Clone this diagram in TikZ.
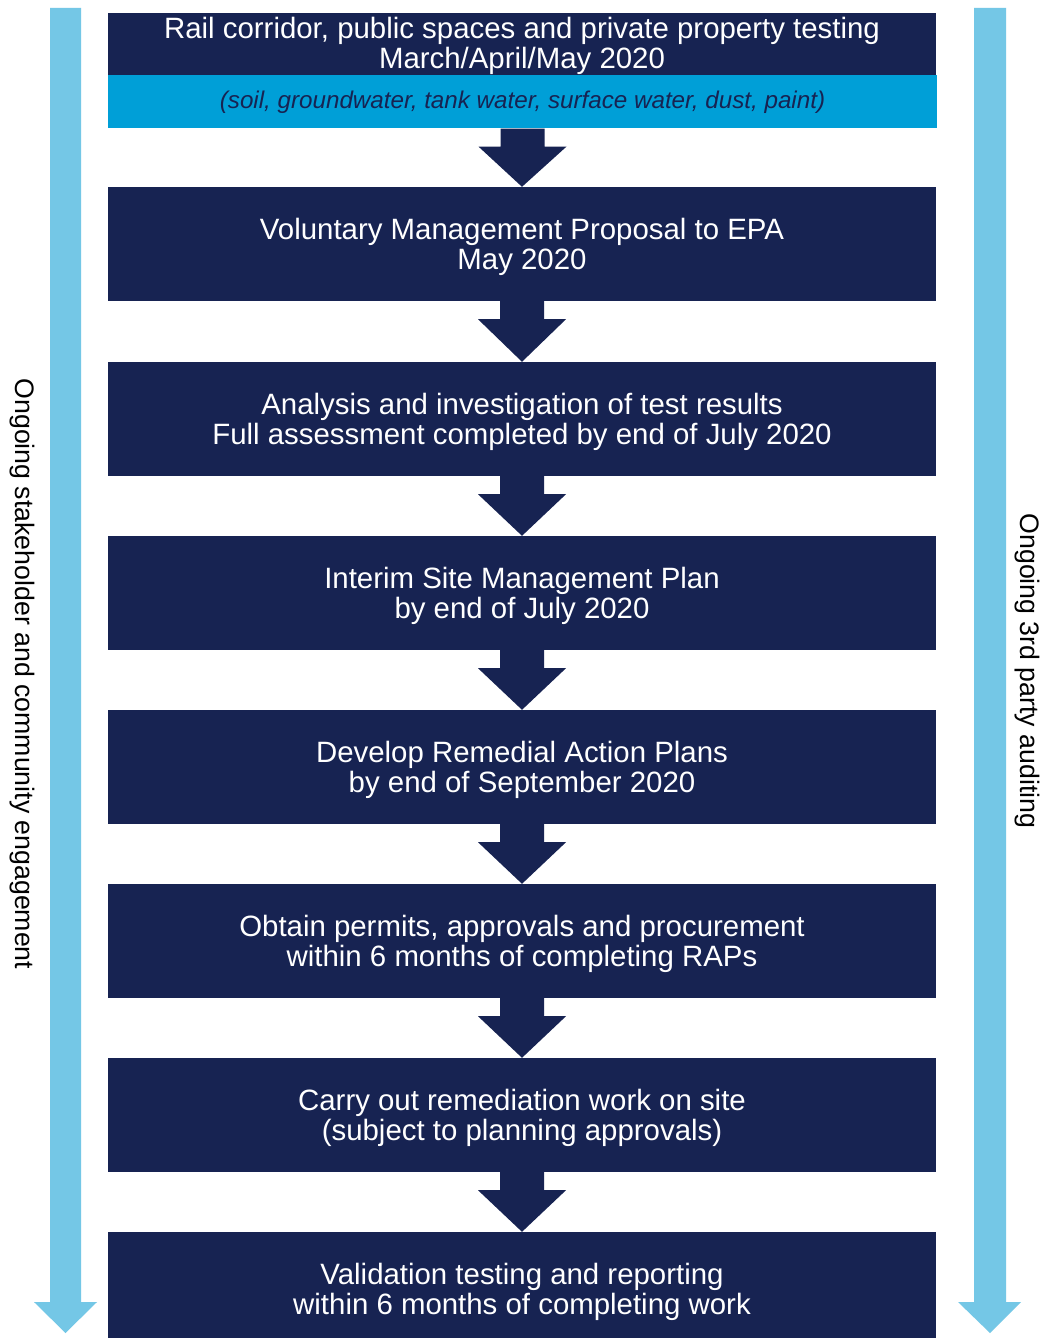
\documentclass[tikz,border=0pt]{standalone}
\usepackage{fontspec}
\setmainfont{Liberation Sans}
\usetikzlibrary{calc}
\definecolor{navy}{HTML}{172352}
\definecolor{band}{HTML}{009FD7}
\definecolor{sky}{HTML}{74C7E6}
\begin{document}
\begin{tikzpicture}[x=1pt,y=-1pt,
  stagetext/.style={text=white, inner sep=0pt, align=center, yshift=-2.5pt,
    font=\fontsize{29.4}{30}\selectfont},
  stagebox/.style={fill=navy, minimum width=828pt, minimum height=114pt, inner sep=0pt,
    label={[stagetext]center:#1}},
  blockarrow/.style={fill=navy},
  sidebar/.style={fill=sky},
  sidetext/.style={rotate=-90, font=\fontsize{26.7}{30}\selectfont, text=black}]
\clip (0,0) rectangle (1042,1338);
\fill[white] (0,0) rectangle (1042,1338);

% side arrows
\fill[sidebar] (50,8) -- (81,8) -- (81,1302) -- (97,1302) -- (65.5,1333) -- (34,1302) -- (50,1302) -- cycle;
\fill[sidebar] (974,8) -- (1006,8) -- (1006,1302) -- (1021,1302) -- (990,1333) -- (958,1302) -- (974,1302) -- cycle;
\node[sidetext] (left) at (22,674) {Ongoing stakeholder and community engagement};
\node[sidetext] (right) at (1027,671) {Ongoing 3rd party auditing};

% first stage: heading plus sample band
\node[fill=navy, minimum width=828pt, minimum height=62pt, inner sep=0pt,
  label={[stagetext, yshift=0.5pt]center:Rail corridor, public spaces and private property testing\\March/April/May 2020}]
  (s1) at (522,44) {};
\node[fill=band, text=navy, minimum width=829pt, minimum height=53pt, inner sep=0pt,
  font=\fontsize{24.2}{26}\selectfont\itshape, anchor=north] (s1b) at ($(s1.south)+(0.5,0)$)
  {(soil, groundwater, tank water, surface water, dust, paint)};

% remaining stages
\node[stagebox={Voluntary Management Proposal to EPA\\May 2020}] (s2) at (522,244) {};
\node[stagebox={Analysis and investigation of test results\\Full assessment completed by end of July 2020}] (s3) at (522,419) {};
\node[stagebox={Interim Site Management Plan\\by end of July 2020}] (s4) at (522,593) {};
\node[stagebox={Develop Remedial Action Plans\\by end of September 2020}] (s5) at (522,767) {};
\node[stagebox={Obtain permits, approvals and procurement\\within 6 months of completing RAPs}] (s6) at (522,941) {};
\node[stagebox={Carry out remediation work on site\\(subject to planning approvals)}] (s7) at (522,1115) {};
\node[stagebox={Validation testing and reporting\\within 6 months of completing work}] (s8) at (522,1289) {};

% block arrows between stages
\foreach \a/\b in {s1b/s2,s2/s3,s3/s4,s4/s5,s5/s6,s6/s7,s7/s8}{
  \fill[blockarrow] ($(\a.south)+(-22,0)$) -- ($(\a.south)+(-22,18)$) -- ($(\a.south)+(-44,18)$)
    -- (\b.north) -- ($(\a.south)+(44,18)$) -- ($(\a.south)+(22,18)$) -- ($(\a.south)+(22,0)$) -- cycle;
}
\end{tikzpicture}
\end{document}
